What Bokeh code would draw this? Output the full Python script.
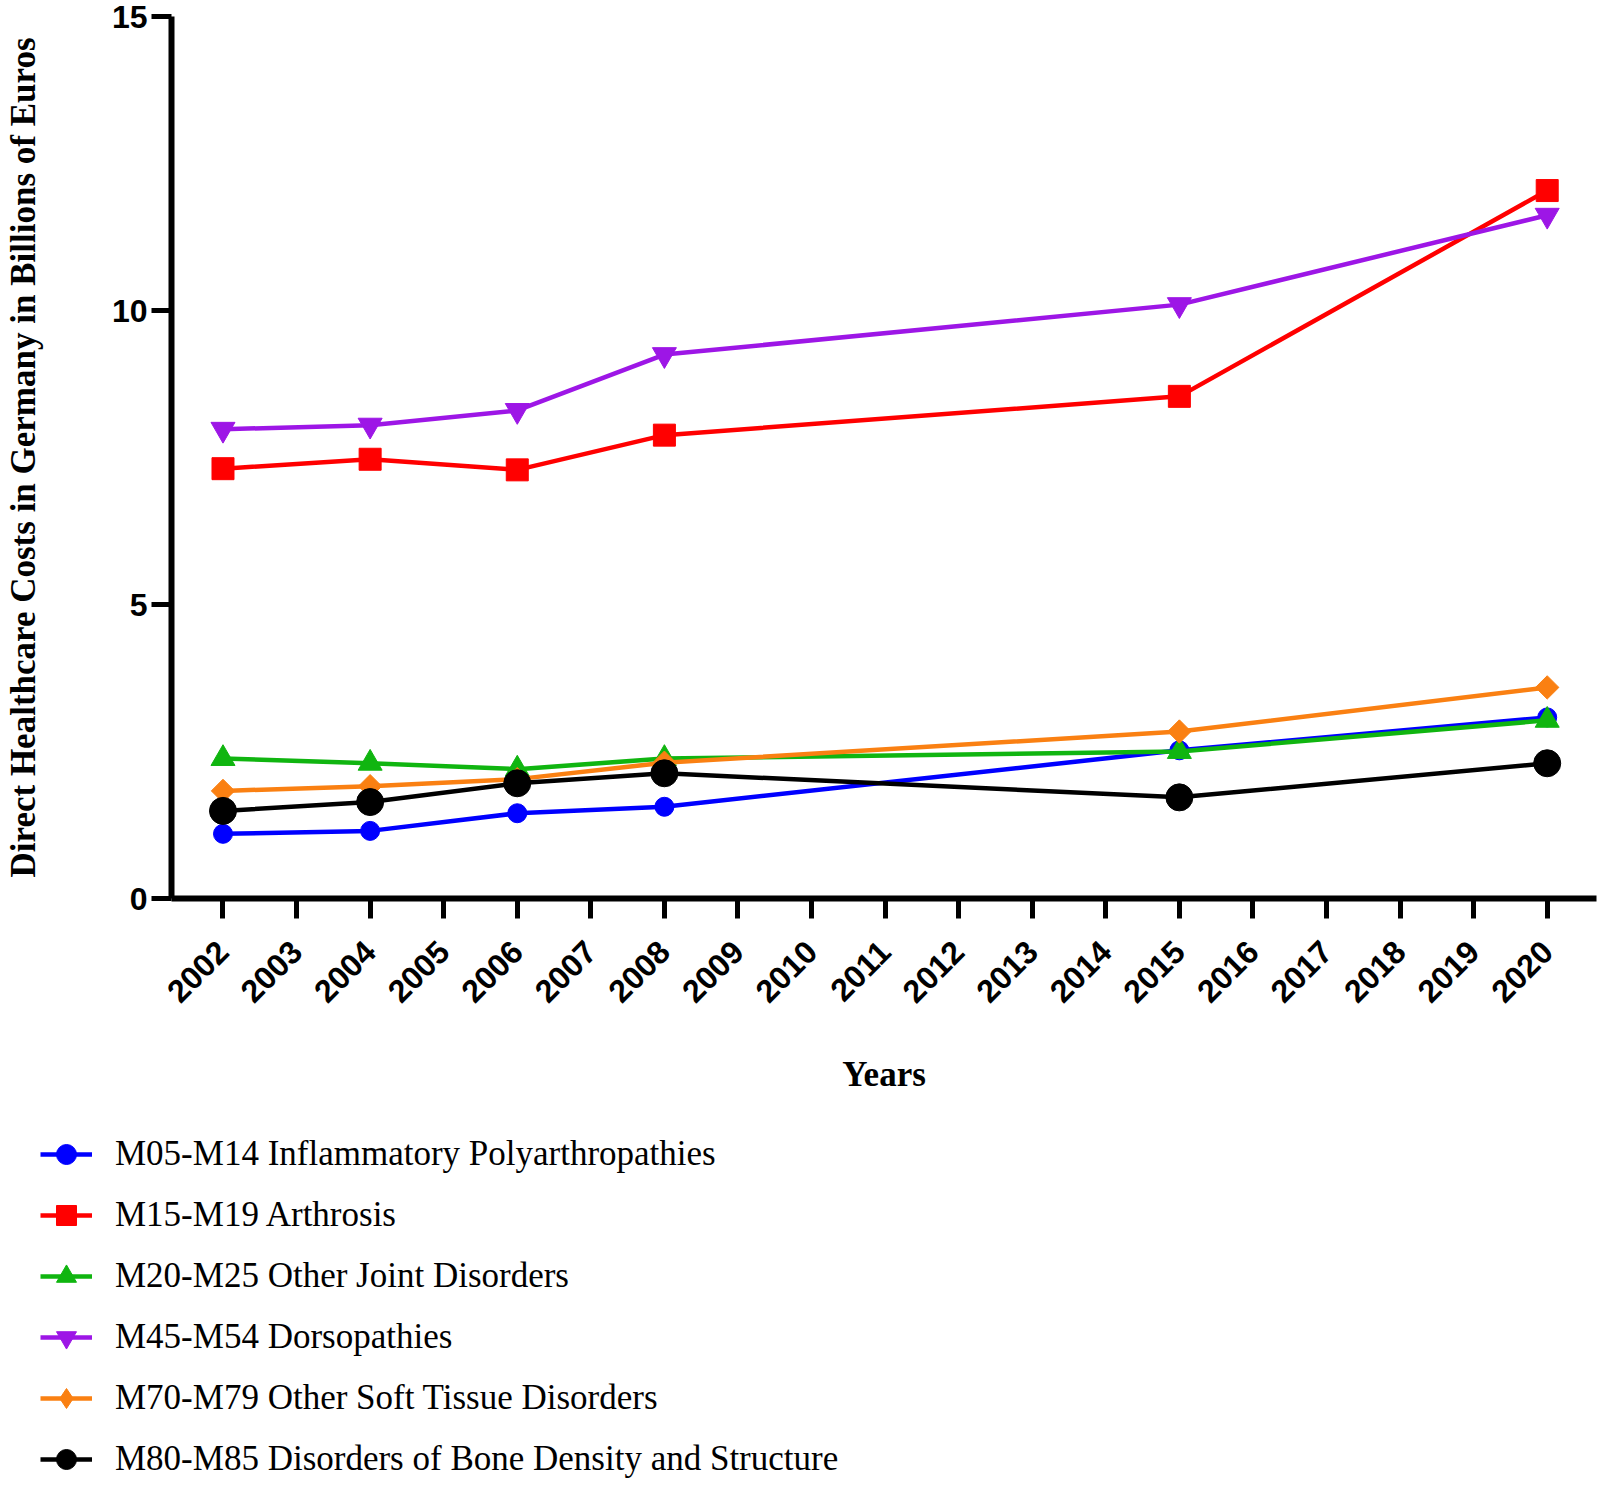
import math
from bokeh.plotting import figure
from bokeh.models import FixedTicker, Legend, LegendItem, Range1d
from bokeh.embed import file_html
from bokeh.resources import INLINE

# ---- data ----
years = [2002, 2004, 2006, 2008, 2015, 2020]
m05_m14 = [1.10, 1.15, 1.45, 1.56, 2.52, 3.08]
m15_m19 = [7.31, 7.47, 7.29, 7.88, 8.54, 12.04]
m20_m25 = [2.38, 2.30, 2.20, 2.38, 2.50, 3.03]
m45_m54 = [7.98, 8.05, 8.30, 9.25, 10.10, 11.62]
m70_m79 = [1.83, 1.91, 2.03, 2.31, 2.84, 3.59]
m80_m85 = [1.49, 1.64, 1.96, 2.13, 1.72, 2.30]

series_labels = [
    "M05-M14 Inflammatory Polyarthropathies",
    "M15-M19 Arthrosis",
    "M20-M25 Other Joint Disorders",
    "M45-M54 Dorsopathies",
    "M70-M79 Other Soft Tissue Disorders",
    "M80-M85 Disorders of Bone Density and Structure",
]
x_tick_years = list(range(2002, 2021))
y_ticks = [0, 5, 10, 15]

series_values = [m05_m14, m15_m19, m20_m25, m45_m54, m70_m79, m80_m85]
styles = [
    dict(color="#0000FF", marker="circle", size=19, angle=0.0, lmarker="circle"),
    dict(color="#FF0000", marker="square", size=22, angle=0.0, lmarker="square"),
    dict(color="#10B510", marker="triangle", size=24, angle=0.0, lmarker="triangle"),
    dict(color="#9D16E6", marker="inverted_triangle", size=24, angle=0.0, lmarker="inverted_triangle"),
    dict(color="#FA8012", marker="square", size=16.5, angle=math.pi / 4, lmarker="diamond"),
    dict(color="#000000", marker="circle", size=27, angle=0.0, lmarker="circle"),
]

W = 1597
H1 = 1100
H2 = 384
FRAME_BOTTOM = 898

p = figure(
    width=W, height=H1,
    x_range=Range1d(2001.30, 2020.67), y_range=Range1d(0, 15),
    output_backend="svg", toolbar_location=None,
    min_border_left=157, min_border_right=1, min_border_top=16,
    min_border_bottom=H1 - FRAME_BOTTOM,
)
p.outline_line_color = None
p.xgrid.visible = False
p.ygrid.visible = False
p.background_fill_color = "white"
p.border_fill_color = "white"

for vals, st in zip(series_values, styles):
    p.line(years, vals, line_color=st["color"], line_width=4.5)
    p.scatter(years, vals, marker=st["marker"], size=st["size"], angle=st["angle"],
              fill_color=st["color"], line_color=st["color"], line_width=1)

# x axis
xa = p.xaxis[0]
xa.ticker = FixedTicker(ticks=x_tick_years)
xa.major_label_orientation = math.pi / 4
xa.major_label_text_font = "Liberation Sans"
xa.major_label_text_font_style = "bold"
xa.major_label_text_font_size = "32px"
xa.major_label_text_color = "black"
xa.major_label_standoff = 28
xa.axis_line_width = 6
xa.axis_line_color = "black"
xa.major_tick_line_width = 5
xa.major_tick_line_color = "black"
xa.major_tick_out = 20
xa.major_tick_in = 0
xa.minor_tick_line_color = None
xa.axis_label = "Years"
xa.axis_label_text_font = "Liberation Serif"
xa.axis_label_text_font_style = "bold"
xa.axis_label_text_font_size = "35px"
xa.axis_label_text_color = "black"
xa.axis_label_standoff = 40

# y axis
ya = p.yaxis[0]
ya.ticker = FixedTicker(ticks=y_ticks)
ya.major_label_text_font = "Liberation Sans"
ya.major_label_text_font_style = "bold"
ya.major_label_text_font_size = "32px"
ya.major_label_text_color = "black"
ya.major_label_standoff = 4
ya.axis_line_width = 6
ya.axis_line_color = "black"
ya.major_tick_line_width = 5
ya.major_tick_line_color = "black"
ya.major_tick_out = 20
ya.major_tick_in = 0
ya.minor_tick_line_color = None
ya.axis_label = "Direct Healthcare Costs in Germany in Billions of Euros"
ya.axis_label_text_font = "Liberation Serif"
ya.axis_label_text_font_style = "bold"
ya.axis_label_text_font_size = "35px"
ya.axis_label_text_color = "black"
ya.axis_label_standoff = 66

# ---- legend panel below the chart (separate root, frame spans whole figure) ----
p2 = figure(
    width=W, height=H2, x_range=Range1d(0, 1), y_range=Range1d(0, 1),
    x_axis_type=None, y_axis_type=None,
    output_backend="svg", toolbar_location=None,
    min_border=0,
)
p2.outline_line_color = None
p2.grid.visible = False
p2.background_fill_color = "white"
p2.border_fill_color = "white"

items = []
for st, lab in zip(styles, series_labels):
    # legend swatches only; the data lie outside the visible range
    ln = p2.line([-5, -4], [-5, -4], line_color=st["color"], line_width=4.5)
    sc = p2.scatter([-5], [-5], marker=st["lmarker"], size=st["size"],
                    fill_color=st["color"], line_color=st["color"], line_width=1)
    items.append(LegendItem(label=lab, renderers=[ln, sc]))

legend = Legend(
    items=items, location=(40, 0), orientation="vertical",
    label_text_font="Liberation Serif", label_text_font_size="35px", label_text_color="black",
    glyph_width=52, glyph_height=50, label_height=50, label_standoff=23, spacing=11,
    padding=0, margin=0, border_line_color=None, background_fill_alpha=0.0,
)
p2.add_layout(legend)

open("out.html", "w").write(file_html([p, p2], INLINE))
